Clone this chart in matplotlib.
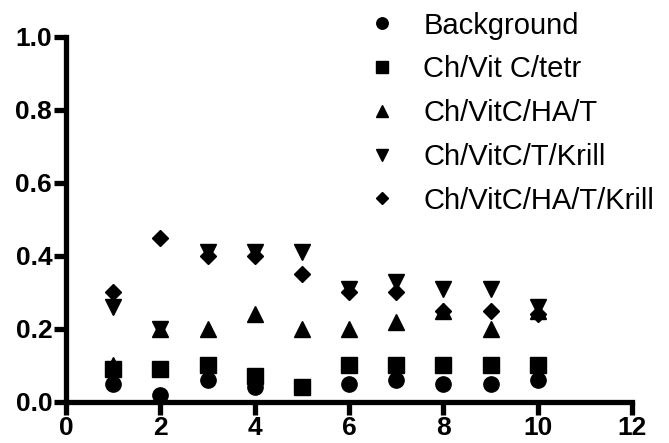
import numpy as np
import matplotlib
matplotlib.use("Agg")
import matplotlib.pyplot as plt

plt.rcParams['font.family'] = ['Liberation Sans', 'DejaVu Sans']

x = [1, 2, 3, 4, 5, 6, 7, 8, 9, 10]
background = [0.05, 0.02, 0.06, 0.04, 0.04, 0.05, 0.06, 0.05, 0.05, 0.06]
vitc_tetr = [0.09, 0.09, 0.10, 0.07, 0.04, 0.10, 0.10, 0.10, 0.10, 0.10]
vitc_ha_t = [0.10, 0.20, 0.20, 0.24, 0.20, 0.20, 0.22, 0.25, 0.20, 0.25]
vitc_t_krill = [0.26, 0.20, 0.41, 0.41, 0.41, 0.31, 0.33, 0.31, 0.31, 0.26]
vitc_ha_t_krill = [0.30, 0.45, 0.40, 0.40, 0.35, 0.30, 0.30, 0.25, 0.25, 0.24]

labels = ['Background', 'Ch/Vit C/tetr', 'Ch/VitC/HA/T', 'Ch/VitC/T/Krill', 'Ch/VitC/HA/T/Krill']
markers = ['o', 's', '^', 'v', 'D']
sizes = [11, 11, 11, 11, 8.5]

fig = plt.figure(figsize=(6.69, 4.43), dpi=100)
ax = fig.add_axes([0.0987, 0.0926, 0.846, 0.824])

series = [background, vitc_tetr, vitc_ha_t, vitc_t_krill, vitc_ha_t_krill]
for ys, lab, m, s in zip(series, labels, markers, sizes):
    ax.plot(x, ys, linestyle='none', marker=m, markersize=s, color='black',
            label=lab, clip_on=False)

ax.set_xlim(0, 12)
ax.set_ylim(0, 1.0)
ax.set_xticks(np.arange(0, 13, 2))
ax.set_yticks(np.arange(0, 1.01, 0.2))
ax.set_yticklabels(['0.0', '0.2', '0.4', '0.6', '0.8', '1.0'])

for side in ['top', 'right']:
    ax.spines[side].set_visible(False)
for side in ['left', 'bottom']:
    ax.spines[side].set_linewidth(3.8)
ax.tick_params(width=3.8, length=9, labelsize=19, pad=1)
for t in ax.get_xticklabels() + ax.get_yticklabels():
    t.set_fontweight('bold')

leg = fig.legend(loc='upper left', bbox_to_anchor=(0.527, 1.0), frameon=False,
                 borderaxespad=0, fontsize=21, markerscale=0.75, handlelength=1.2,
                 handletextpad=0.83, labelspacing=0.54)

fig.savefig('out.png', dpi=100)
